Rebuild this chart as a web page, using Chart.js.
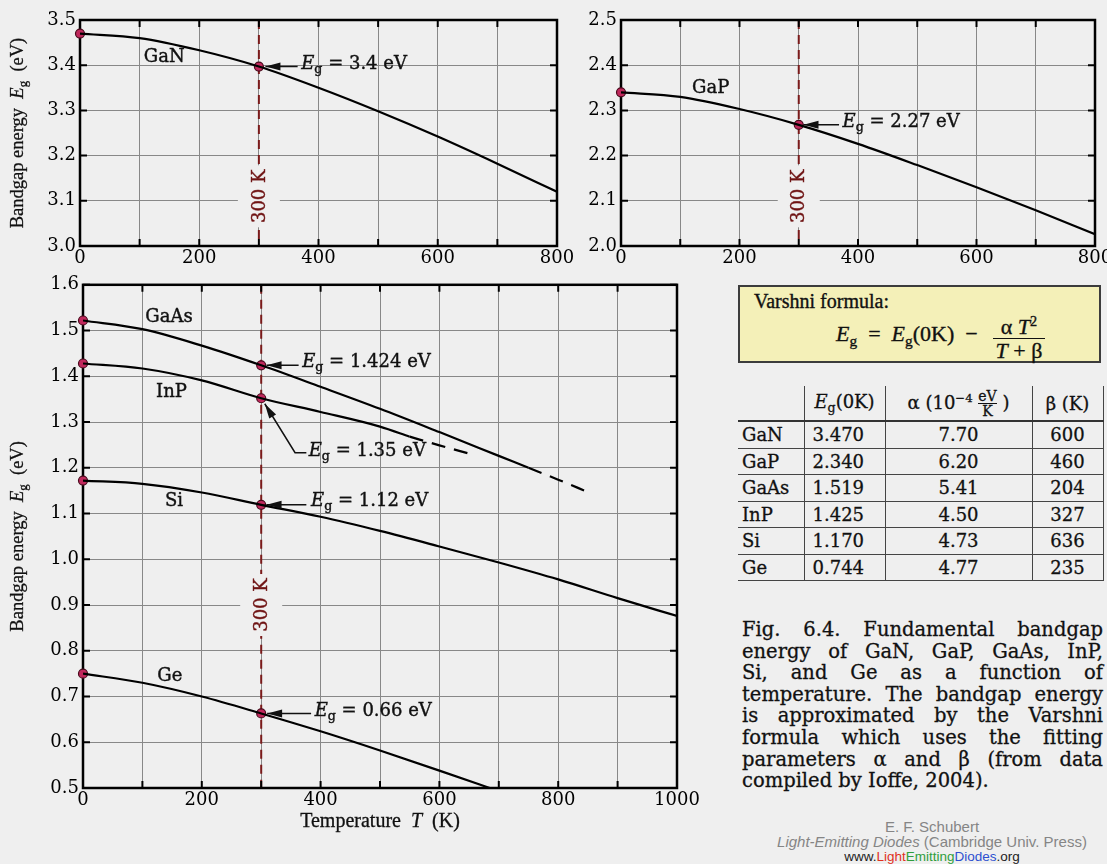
<!DOCTYPE html>
<html>
<head>
<meta charset="utf-8">
<script src="https://cdn.jsdelivr.net/npm/chart.js@4.4.1/dist/chart.umd.min.js"></script>
<style>
  html, body { margin: 0; padding: 0; }
  body { width: 1107px; height: 864px; overflow: hidden; position: relative; background: #efefef; color: #111; }
  canvas { position: absolute; }
  #varshni { position: absolute; left: 738px; top: 285px; width: 359px; height: 74px; background: #f4f0b8; border: 2px solid #3c3c3c; font-family: 'Liberation Serif', serif; font-size: 20px; -webkit-text-stroke: 0.35px #111; }
  #varshni .vt { position: absolute; left: 14px; top: 3px; }
  #varshni .vf { position: absolute; left: 96px; top: 23px; font-size: 22px; white-space: pre; }
  .frac { display: inline-flex; flex-direction: column; align-items: center; vertical-align: middle; margin-left: 4px; line-height: 23px; }
  .frac > span:first-child { border-bottom: 1.5px solid #111; padding: 0 8px; }
  sub { font-size: 0.7em; vertical-align: -0.3em; }
  sup { font-size: 0.65em; vertical-align: 0.55em; }
  #params { position: absolute; left: 738px; top: 386px; border-collapse: collapse; font-family: 'DejaVu Serif', serif; font-size: 18px; -webkit-text-stroke: 0.3px #111; }
  #params th { height: 34px; font-weight: normal; padding: 0; border-bottom: 2px solid #333; }
  #params td { height: 25.5px; padding: 0; border-bottom: 1.5px solid #444; }
  #params th + th, #params td + td { border-left: 1.5px solid #444; }
  #params th:last-child, #params td:last-child { border-right: 1.5px solid #444; text-align: center; }
  #params td:first-child { padding-left: 4px; }
  #params td:nth-child(2) { padding-left: 8px; }
  #params td:nth-child(3) { text-align: center; }
  .sfrac { display: inline-flex; flex-direction: column; align-items: center; vertical-align: middle; font-size: 14px; line-height: 14px; }
  .sfrac > span:first-child { border-bottom: 1px solid #111; }
  #caption { position: absolute; left: 742px; top: 619px; width: 361px; font-family: 'DejaVu Serif', serif; font-size: 19.5px; line-height: 21.6px; -webkit-text-stroke: 0.3px #111; }
  #caption div { text-align: justify; text-align-last: justify; }
  #caption div:last-child { text-align-last: left; }
  #credit { position: absolute; left: 760px; top: 819px; width: 344px; text-align: center; font-family: 'Liberation Sans', sans-serif; font-size: 15px; line-height: 15px; color: #858585; }
</style>
</head>
<body>
<canvas id="gan" width="580" height="280" style="left:0;top:0"></canvas>
<canvas id="gap" width="540" height="280" style="left:580px;top:0"></canvas>
<canvas id="low" width="710" height="594" style="left:0;top:270px"></canvas>

<div id="varshni">
  <div class="vt">Varshni formula:</div>
  <div class="vf"><i>E</i><sub>g</sub>  =  <i>E</i><sub>g</sub>(0K)  −  <span class="frac"><span>α <i>T</i><sup>2</sup></span><span><i>T</i> + β</span></span></div>
</div>

<table id="params">
  <colgroup><col style="width:66px"><col style="width:81px"><col style="width:147px"><col style="width:71px"></colgroup>
  <thead>
    <tr><th></th><th><i>E</i><sub>g</sub>(0K)</th><th>α (10<sup>−4</sup> <span class="sfrac"><span>eV</span><span>K</span></span> )</th><th>β (K)</th></tr>
  </thead>
  <tbody>
    <tr><td>GaN</td><td>3.470</td><td>7.70</td><td>600</td></tr>
    <tr><td>GaP</td><td>2.340</td><td>6.20</td><td>460</td></tr>
    <tr><td>GaAs</td><td>1.519</td><td>5.41</td><td>204</td></tr>
    <tr><td>InP</td><td>1.425</td><td>4.50</td><td>327</td></tr>
    <tr><td>Si</td><td>1.170</td><td>4.73</td><td>636</td></tr>
    <tr><td>Ge</td><td>0.744</td><td>4.77</td><td>235</td></tr>
  </tbody>
</table>

<div id="caption">
  <div>Fig. 6.4. Fundamental bandgap</div>
  <div>energy of GaN, GaP, GaAs, InP,</div>
  <div>Si, and Ge as a function of</div>
  <div>temperature. The bandgap energy</div>
  <div>is approximated by the Varshni</div>
  <div>formula which uses the fitting</div>
  <div>parameters α and β (from data</div>
  <div>compiled by Ioffe, 2004).</div>
</div>

<div id="credit">
  <div>E. F. Schubert</div>
  <div><i>Light-Emitting Diodes</i> (Cambridge Univ. Press)</div>
  <div style="color:#222;font-size:13.5px">www.<span style="color:#e0301e">Light</span><span style="color:#2f9e3c">Emitting</span><span style="color:#2d4fd0">Diodes</span>.org</div>
</div>

<script>
// temperatures (K) and bandgap energies (eV)
const tempTop = [0, 100, 200, 300, 400, 500, 600, 700, 800];
const ganEg = [3.470, 3.460, 3.433, 3.397, 3.350, 3.298, 3.242, 3.182, 3.120];
const gapEg = [2.340, 2.330, 2.303, 2.268, 2.226, 2.179, 2.130, 2.079, 2.026];

const gaasT = [0, 100, 200, 300, 400, 500, 600, 700, 750];
const gaasEg = [1.522, 1.503, 1.467, 1.424, 1.377, 1.329, 1.278, 1.226, 1.200];
const gaasDashT = [750, 800, 850];
const gaasDashEg = [1.200, 1.174, 1.147];

const inpT = [0, 100, 200, 300, 400, 500, 550];
const inpEg = [1.428, 1.417, 1.391, 1.352, 1.322, 1.290, 1.268];
const inpDashT = [550, 600, 650];
const inpDashEg = [1.268, 1.249, 1.231];

const siT = [0, 100, 200, 300, 400, 500, 600, 700, 800, 900, 1000];
const siEg = [1.172, 1.165, 1.146, 1.119, 1.093, 1.062, 1.028, 0.993, 0.956, 0.915, 0.876];

const geT = [0, 100, 200, 300, 400, 500, 600, 700];
const geEg = [0.750, 0.730, 0.700, 0.663, 0.624, 0.582, 0.538, 0.493];

// marked points at 0 K and 300 K
const markT = [0, 300];
const ganMark = [3.470, 3.397];
const gapMark = [2.340, 2.268];
const gaasMark = [1.522, 1.424];
const inpMark = [1.428, 1.352];
const siMark = [1.172, 1.119];
const geMark = [0.750, 0.663];

const BG = '#efefef';
const SERIF = '"DejaVu Serif", serif';
const TIMES = '"Liberation Serif", serif';

const toXY = (xs, ys) => xs.map((x, i) => ({ x: x, y: ys[i] }));

function curve (xs, ys, dash) {
  return {
    data: toXY(xs, ys),
    borderColor: '#000',
    borderWidth: 2.2,
    borderDash: dash || [],
    pointRadius: 0,
    cubicInterpolationMode: 'monotone',
    fill: false
  };
}

function dots (ys) {
  return {
    data: toXY(markT, ys),
    showLine: false,
    pointRadius: 4.5,
    pointBackgroundColor: '#c0285c',
    pointBorderColor: '#4a0a1c',
    pointBorderWidth: 1.2,
    clip: false
  };
}

const eg = v => [['E', 'i'], ['g', 'sub'], [' = ' + v + ' eV', '']];

// mixed text: parts are [text, style], style '' | 'i' | 'sub'
function richWidth (ctx, parts, size, family) {
  let w = 0;
  for (const [t, s] of parts) {
    const f = s === 'sub' ? size * 0.7 : size;
    ctx.font = (s === 'i' ? 'italic ' : '') + f + 'px ' + family;
    w += ctx.measureText(t).width;
  }
  return w;
}

function drawRich (ctx, parts, x, y, size, family, bold) {
  let cx = x;
  ctx.textAlign = 'left';
  ctx.textBaseline = 'middle';
  ctx.lineWidth = bold || 0;
  for (const [t, s] of parts) {
    const f = s === 'sub' ? size * 0.7 : size;
    const ty = s === 'sub' ? y + size * 0.3 : y;
    ctx.font = (s === 'i' ? 'italic ' : '') + f + 'px ' + family;
    ctx.fillText(t, cx, ty);
    if (bold) ctx.strokeText(t, cx, ty);
    cx += ctx.measureText(t).width;
  }
}

function arrow (ctx, pts) {
  ctx.beginPath();
  ctx.moveTo(pts[0][0], pts[0][1]);
  for (let i = 1; i < pts.length; i++) ctx.lineTo(pts[i][0], pts[i][1]);
  ctx.lineWidth = 1.5;
  ctx.stroke();
  const [px, py] = pts[pts.length - 2];
  const [tx, ty] = pts[pts.length - 1];
  const a = Math.atan2(ty - py, tx - px);
  ctx.beginPath();
  ctx.moveTo(tx, ty);
  ctx.lineTo(tx - 15 * Math.cos(a) + 4 * Math.sin(a), ty - 15 * Math.sin(a) - 4 * Math.cos(a));
  ctx.lineTo(tx - 15 * Math.cos(a) - 4 * Math.sin(a), ty - 15 * Math.sin(a) + 4 * Math.cos(a));
  ctx.closePath();
  ctx.fill();
}

function figurePlugin (c) {
  return {
    id: 'figure',
    beforeDatasetsDraw (chart) {
      const { ctx, chartArea: a, scales: { x, y } } = chart;
      ctx.save();
      // 300 K marker line
      const x300 = x.getPixelForValue(300);
      ctx.strokeStyle = '#7a1a1a';
      ctx.lineWidth = 2;
      ctx.setLineDash([9, 6]);
      ctx.beginPath();
      ctx.moveTo(x300, a.top);
      ctx.lineTo(x300, a.bottom);
      ctx.stroke();
      ctx.setLineDash([]);
      ctx.translate(x300, y.getPixelForValue(c.k300));
      ctx.rotate(-Math.PI / 2);
      ctx.fillStyle = BG;
      ctx.fillRect(-31, -21, 62, 42);
      ctx.fillStyle = '#6e1212';
      ctx.strokeStyle = '#6e1212';
      ctx.lineWidth = 0.4;
      ctx.font = '18px ' + SERIF;
      ctx.textAlign = 'center';
      ctx.textBaseline = 'middle';
      ctx.fillText('300 K', 0, 1);
      ctx.strokeText('300 K', 0, 1);
      ctx.restore();

      // frame with inward ticks
      ctx.save();
      ctx.strokeStyle = '#000';
      ctx.lineWidth = 2.5;
      ctx.strokeRect(a.left, a.top, a.right - a.left, a.bottom - a.top);
      ctx.lineWidth = 2;
      ctx.beginPath();
      x.ticks.forEach(t => {
        const px = x.getPixelForValue(t.value);
        ctx.moveTo(px, a.bottom); ctx.lineTo(px, a.bottom - 7);
        ctx.moveTo(px, a.top); ctx.lineTo(px, a.top + 7);
      });
      y.ticks.forEach(t => {
        const py = y.getPixelForValue(t.value);
        ctx.moveTo(a.left, py); ctx.lineTo(a.left + 7, py);
        ctx.moveTo(a.right, py); ctx.lineTo(a.right - 7, py);
      });
      ctx.stroke();
      ctx.restore();
    },
    afterDatasetsDraw (chart) {
      const { ctx, chartArea: a, scales: { x, y } } = chart;
      ctx.save();
      ctx.fillStyle = '#111';
      ctx.strokeStyle = '#111';
      c.notes.forEach(n => drawRich(ctx, n.p, x.getPixelForValue(n.x), y.getPixelForValue(n.y), 18, SERIF, 0.4));
      c.arrows.forEach(pts => arrow(ctx, pts.map(p => [x.getPixelForValue(p[0]), y.getPixelForValue(p[1])])));

      if (c.yTitle) {
        const parts = [['Bandgap energy  ', ''], ['E', 'i'], ['g', 'sub'], ['  (eV)', '']];
        const w = richWidth(ctx, parts, 18.5, TIMES);
        ctx.save();
        ctx.translate(c.yTitle, (a.top + a.bottom) / 2);
        ctx.rotate(-Math.PI / 2);
        drawRich(ctx, parts, -w / 2, 0, 18.5, TIMES, 0.3);
        ctx.restore();
      }
      if (c.xTitle) {
        const parts = [['Temperature  ', ''], ['T', 'i'], ['  (K)', '']];
        const w = richWidth(ctx, parts, 20, TIMES);
        drawRich(ctx, parts, (a.left + a.right) / 2 - w / 2, a.bottom + c.xTitle, 20, TIMES, 0.3);
      }
      ctx.restore();
    }
  };
}

const TICK_FONT = { family: 'DejaVu Serif', size: 18 };
const GRID = '#888888';

function panel (id, c) {
  return new Chart(document.getElementById(id), {
    type: 'line',
    data: { datasets: c.datasets },
    options: {
      responsive: false,
      animation: false,
      events: [],
      layout: { padding: c.pad },
      plugins: { legend: { display: false }, tooltip: { enabled: false } },
      scales: {
        x: {
          type: 'linear',
          min: 0,
          max: c.xMax,
          afterFit: s => { s.height = c.xH; },
          border: { display: false },
          grid: { color: GRID, lineWidth: 1, drawTicks: false },
          ticks: {
            stepSize: 100,
            autoSkip: false,
            maxRotation: 0,
            padding: 2,
            color: '#000',
            font: TICK_FONT,
            callback: v => (v % 200 === 0 ? String(v) : '')
          }
        },
        y: {
          type: 'linear',
          min: c.yMin,
          max: c.yMax,
          afterFit: s => { s.width = c.yW; },
          border: { display: false },
          grid: { color: GRID, lineWidth: 1, drawTicks: false },
          ticks: {
            stepSize: 0.1,
            padding: 4,
            color: '#000',
            font: TICK_FONT,
            callback: v => Number(v).toFixed(1)
          }
        }
      }
    },
    plugins: [figurePlugin(c)]
  });
}

panel('gan', {
  datasets: [curve(tempTop, ganEg), dots(ganMark)],
  xMax: 800, yMin: 3.0, yMax: 3.5,
  pad: { top: 20, right: 23, left: 0, bottom: 0 },
  yW: 80, xH: 34,
  k300: 3.11,
  yTitle: 18,
  notes: [
    { x: 107, y: 3.417, p: [['GaN', '']] },
    { x: 371, y: 3.403, p: eg('3.4') }
  ],
  arrows: [[[365, 3.397], [311, 3.397]]]
});

panel('gap', {
  datasets: [curve(tempTop, gapEg), dots(gapMark)],
  xMax: 800, yMin: 2.0, yMax: 2.5,
  pad: { top: 20, right: 25, left: 0, bottom: 0 },
  yW: 41, xH: 34,
  k300: 2.11,
  notes: [
    { x: 120, y: 2.348, p: [['GaP', '']] },
    { x: 374, y: 2.273, p: eg('2.27') }
  ],
  arrows: [[[368, 2.268], [308, 2.268]]]
});

panel('low', {
  datasets: [
    curve(gaasT, gaasEg),
    curve(gaasDashT, gaasDashEg, [14, 9]),
    curve(inpT, inpEg),
    curve(inpDashT, inpDashEg, [14, 9]),
    curve(siT, siEg),
    curve(geT, geEg),
    dots(gaasMark), dots(inpMark), dots(siMark), dots(geMark)
  ],
  xMax: 1000, yMin: 0.5, yMax: 1.6,
  pad: { top: 14, right: 33, left: 0, bottom: 0 },
  yW: 83, xH: 76,
  k300: 0.9,
  yTitle: 18,
  xTitle: 34,
  notes: [
    { x: 105, y: 1.529, p: [['GaAs', '']] },
    { x: 123, y: 1.365, p: [['InP', '']] },
    { x: 138, y: 1.126, p: [['Si', '']] },
    { x: 125, y: 0.745, p: [['Ge', '']] },
    { x: 369, y: 1.430, p: eg('1.424') },
    { x: 380, y: 1.236, p: eg('1.35') },
    { x: 384, y: 1.127, p: eg('1.12') },
    { x: 390, y: 0.668, p: eg('0.66') }
  ],
  arrows: [
    [[363, 1.424], [309, 1.424]],
    [[376, 1.233], [357, 1.233], [306, 1.340]],
    [[376, 1.119], [309, 1.119]],
    [[384, 0.663], [310, 0.663]]
  ]
});
</script>
</body>
</html>
